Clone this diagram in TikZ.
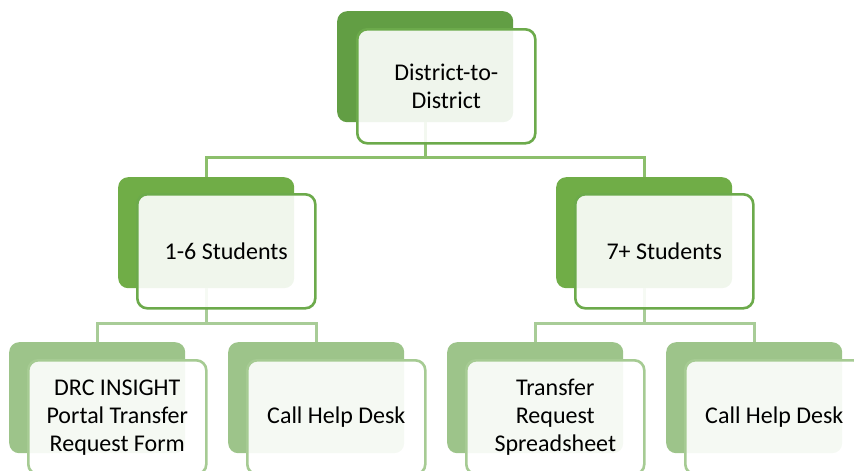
\documentclass[tikz,border=0pt]{standalone}
\usepackage{fontspec}
\setmainfont{Carlito}
\usetikzlibrary{positioning}
\definecolor{grnTop}{HTML}{629E44}
\definecolor{grnMid}{HTML}{70AD47}
\definecolor{grnLow}{HTML}{9DC48A}
\definecolor{lineTop}{HTML}{6CAA4B}
\definecolor{lineLow}{HTML}{A6CB93}
\definecolor{linkTop}{HTML}{8CBF6C}
\definecolor{linkLow}{HTML}{A8CC97}
\tikzset{
  back/.style={rounded corners=10pt,anchor=north west,inner sep=0pt,
    minimum width=176pt,minimum height=111pt},
  front/.style={rounded corners=10pt,line width=2.6pt,fill=white,fill opacity=0.9,
    text opacity=1,inner sep=0pt,minimum width=178pt,minimum height=114pt,
    align=center,font=\fontsize{24}{28}\selectfont},
  link/.style={line width=2.6pt}
}

\begin{document}
\begin{tikzpicture}[x=1pt,y=-1pt]
\useasboundingbox (0,0) rectangle (854,471);
% back shapes
\node [back,fill=grnTop] (dtd-b) at (337,11) {};
\node [back,fill=grnMid] (few-b) at (118,177) {};
\node [back,fill=grnMid] (many-b) at (556,177) {};
\node [back,fill=grnLow] (drc-b) at (9,342) {};
\node [back,fill=grnLow] (helpA-b) at (228,342) {};
\node [back,fill=grnLow] (sheet-b) at (447,342) {};
\node [back,fill=grnLow] (helpB-b) at (666,342) {};
% connectors
\draw [link,linkTop] (dtd-b.south) -- ++(0,35) -| (few-b.north);
\draw [link,linkTop] (dtd-b.south) -- ++(0,35) -| (many-b.north);
\draw [link,linkLow] (few-b.south) -- ++(0,35) -| (drc-b.north);
\draw [link,linkLow] (few-b.south) -- ++(0,35) -| (helpA-b.north);
\draw [link,linkLow] (many-b.south) -- ++(0,35) -| (sheet-b.north);
\draw [link,linkLow] (many-b.south) -- ++(0,35) -| (helpB-b.north);
% front shapes
\node [front,draw=lineTop,below right=17pt and 19pt of dtd-b.north west] (dtd) {District-to-\\District};
\node [front,draw=lineTop,below right=16pt and 18pt of few-b.north west] (few) {1-6 Students};
\node [front,draw=lineTop,below right=16pt and 18pt of many-b.north west] (many) {7+ Students};
\node [front,draw=lineLow,below right=17pt and 18pt of drc-b.north west] (drc) {DRC INSIGHT\\Portal Transfer\\Request Form};
\node [front,draw=lineLow,below right=17pt and 18pt of helpA-b.north west] (helpA) {Call Help Desk};
\node [front,draw=lineLow,below right=17pt and 18pt of sheet-b.north west] (sheet) {Transfer\\Request\\Spreadsheet};
\node [front,draw=lineLow,below right=17pt and 18pt of helpB-b.north west] (helpB) {Call Help Desk};
\end{tikzpicture}
\end{document}
